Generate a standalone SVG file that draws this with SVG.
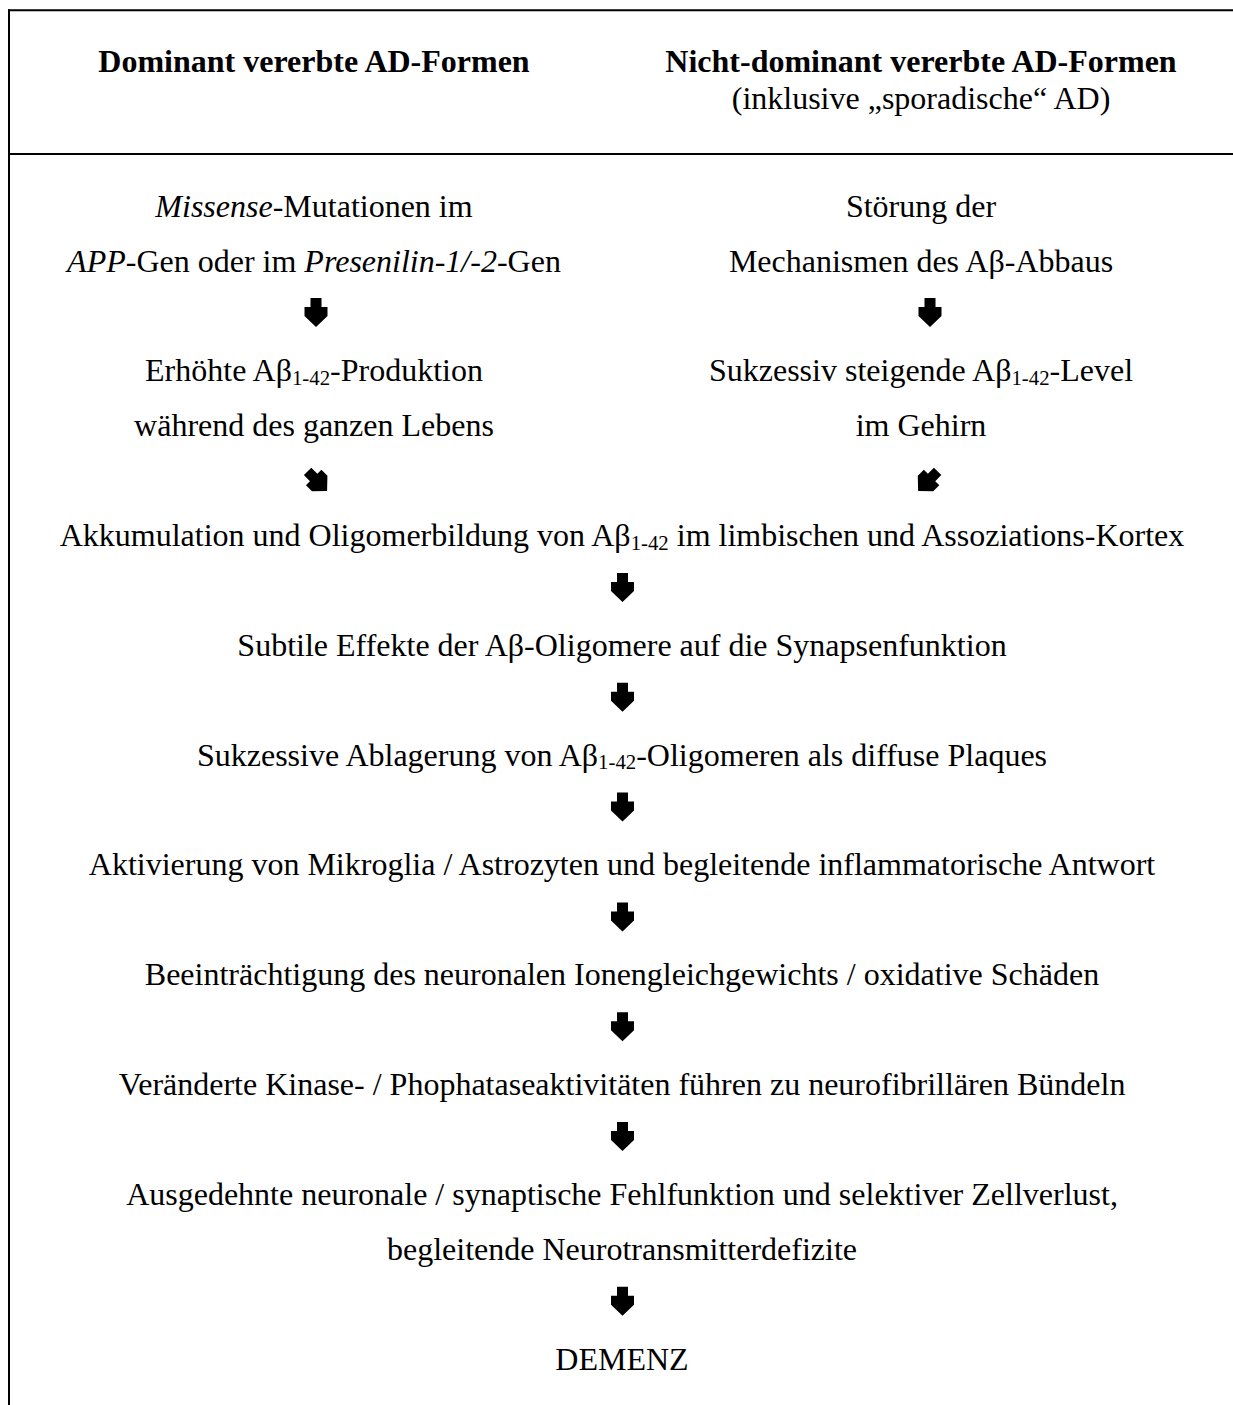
<svg xmlns="http://www.w3.org/2000/svg" xmlns:xlink="http://www.w3.org/1999/xlink" width="1233" height="1405" viewBox="0 0 1233 1405">
<style>
text{font-family:"Liberation Serif","Times New Roman",serif;font-size:32px;fill:#000;text-anchor:middle}
.b{font-weight:bold}
.i{font-style:italic}
.sub{font-size:20.8px}
.frame{stroke:#000;stroke-width:2;fill:none}
.arr{fill:#000;stroke:none}
</style>
<defs>
<path id="dn" class="arr" d="M-5.5,0 H5.5 V9 H11.5 V18 L0,29 L-11.5,18 V9 H-5.5 Z"/>
</defs>
<rect x="0" y="0" width="1233" height="1405" fill="#fff"/>
<g id="frame">
<line class="frame" x1="8" y1="10.3" x2="1233" y2="10.3"/>
<line class="frame" x1="9" y1="9.3" x2="9" y2="1405"/>
<line class="frame" x1="8" y1="154" x2="1233" y2="154"/>
</g>
<g id="header-left"><text x="314" y="72" class="b">Dominant vererbte AD-Formen</text></g>
<g id="header-right"><text x="921" y="72" class="b">Nicht-dominant vererbte AD-Formen</text>
<text x="921" y="108.5">(inklusive „sporadische“ AD)</text></g>
<g id="n-missense"><text x="314" y="216.6"><tspan class="i">Missense</tspan>-Mutationen im</text>
<text x="314" y="271.5"><tspan class="i">APP</tspan>-Gen oder im <tspan class="i">Presenilin-1/-2</tspan>-Gen</text></g>
<g id="n-stoerung"><text x="921" y="216.6">Störung der</text>
<text x="921" y="271.5">Mechanismen des Aβ-Abbaus</text></g>
<g id="n-erhoehte"><text x="314" y="381.3">Erhöhte Aβ<tspan class="sub" dy="3.5">1-42</tspan><tspan dy="-3.5">-Produktion</tspan></text>
<text x="314" y="436.2">während des ganzen Lebens</text></g>
<g id="n-sukzessiv"><text x="921" y="381.3">Sukzessiv steigende Aβ<tspan class="sub" dy="3.5">1-42</tspan><tspan dy="-3.5">-Level</tspan></text>
<text x="921" y="436.2">im Gehirn</text></g>
<g id="n-akkumulation"><text x="622" y="546">Akkumulation und Oligomerbildung von Aβ<tspan class="sub" dy="3.5">1-42</tspan><tspan dy="-3.5"> im limbischen und Assoziations-Kortex</tspan></text></g>
<g id="n-subtile"><text x="622" y="655.8">Subtile Effekte der Aβ-Oligomere auf die Synapsenfunktion</text></g>
<g id="n-ablagerung"><text x="622" y="765.6">Sukzessive Ablagerung von Aβ<tspan class="sub" dy="3.5">1-42</tspan><tspan dy="-3.5">-Oligomeren als diffuse Plaques</tspan></text></g>
<g id="n-aktivierung"><text x="622" y="875.4">Aktivierung von Mikroglia / Astrozyten und begleitende inflammatorische Antwort</text></g>
<g id="n-beeintraechtigung"><text x="622" y="985.2">Beeinträchtigung des neuronalen Ionengleichgewichts / oxidative Schäden</text></g>
<g id="n-kinase"><text x="622" y="1095">Veränderte Kinase- / Phophataseaktivitäten führen zu neurofibrillären Bündeln</text></g>
<g id="n-ausgedehnte"><text x="622" y="1204.8">Ausgedehnte neuronale / synaptische Fehlfunktion und selektiver Zellverlust,</text>
<text x="622" y="1259.7">begleitende Neurotransmitterdefizite</text></g>
<g id="n-demenz"><text x="622" y="1369.5">DEMENZ</text></g>
<g id="connectors">
<use xlink:href="#dn" transform="translate(316,298)"/>
<use xlink:href="#dn" transform="translate(930,298)"/>
<use xlink:href="#dn" transform="translate(307.6,471.4) rotate(-45) scale(0.95)"/>
<use xlink:href="#dn" transform="translate(937.6,471.4) rotate(45) scale(0.95)"/>
<use xlink:href="#dn" transform="translate(622.5,573)"/>
<use xlink:href="#dn" transform="translate(622.5,682.8)"/>
<use xlink:href="#dn" transform="translate(622.5,792.6)"/>
<use xlink:href="#dn" transform="translate(622.5,902.4)"/>
<use xlink:href="#dn" transform="translate(622.5,1012.2)"/>
<use xlink:href="#dn" transform="translate(622.5,1122)"/>
<use xlink:href="#dn" transform="translate(622.5,1286.7)"/>
</g>
</svg>
